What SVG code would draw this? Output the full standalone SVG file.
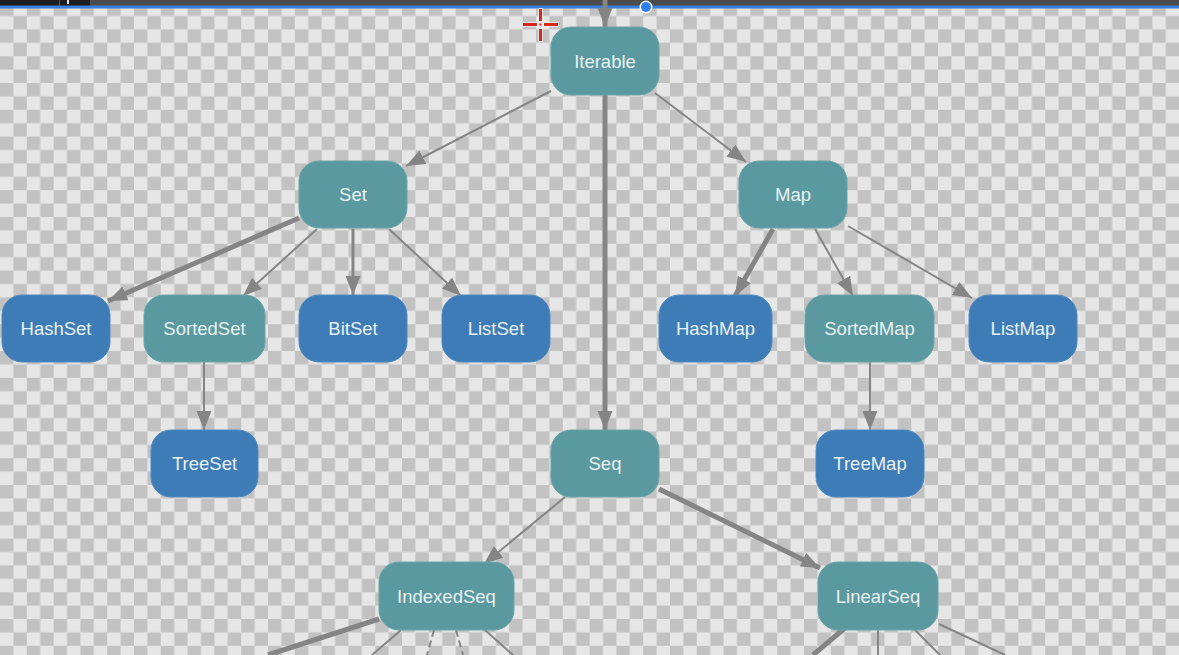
<svg xmlns="http://www.w3.org/2000/svg" width="1179" height="655" viewBox="0 0 1179 655">
  <defs>
    <pattern id="checker" patternUnits="userSpaceOnUse" x="0" y="2.6" width="26.8" height="26.8">
      <rect width="26.8" height="26.8" fill="#e6e6e6"/>
      <rect width="13.4" height="13.4" fill="#c2c2c2"/>
      <rect x="13.4" y="13.4" width="13.4" height="13.4" fill="#c2c2c2"/>
    </pattern>
    <marker id="arrow" markerUnits="userSpaceOnUse" markerWidth="20" markerHeight="16" refX="19" refY="7.5" orient="auto">
      <path d="M0,0 L19,7.5 L0,15 z" fill="#858585"/>
    </marker>
    <style>
      .node rect { stroke-width: 1; }
      .teal rect { fill: #5a999f; stroke: #6aa6ab; }
      .blue rect { fill: #3e7cb8; stroke: #4f8ac2; }
      .node text { font-family: "Liberation Sans", Arial, sans-serif; font-size: 18.5px; fill: #e9f1f2; text-anchor: middle; dominant-baseline: central; }
      .edge { stroke: #858585; fill: none; }
      .thin { stroke-width: 2; }
      .mid { stroke-width: 3; }
      .thick { stroke-width: 5; }
      .dash { stroke-dasharray: 7 4; }
    </style>
  </defs>

  <!-- background -->
  <rect width="1179" height="655" fill="url(#checker)"/>

  <!-- top bar -->
  <rect x="0" y="0" width="1179" height="6" fill="#4b4b4b"/>
  <rect x="0" y="0" width="90" height="6" fill="#1c1c1c"/>
  <rect x="59" y="0" width="1" height="6" fill="#555"/>
  <rect x="67" y="0" width="2" height="4" fill="#e8e8e8"/>
  <rect x="0" y="5.5" width="1179" height="3" fill="#3a7ddc"/>

  <!-- connectors -->
  <g id="connectors">
    <line class="edge thick" x1="605" y1="0" x2="605" y2="27" marker-end="url(#arrow)"/>
    <line class="edge thin" x1="551" y1="91" x2="406" y2="166" marker-end="url(#arrow)"/>
    <line class="edge thin" x1="655" y1="93" x2="746" y2="162" marker-end="url(#arrow)"/>
    <line class="edge thick" x1="605" y1="95" x2="605" y2="430" marker-end="url(#arrow)"/>
    <line class="edge thick" x1="299" y1="218" x2="108" y2="301" marker-end="url(#arrow)"/>
    <line class="edge thin" x1="317" y1="229" x2="243" y2="296" marker-end="url(#arrow)"/>
    <line class="edge mid" x1="353" y1="229" x2="353" y2="295" marker-end="url(#arrow)"/>
    <line class="edge thin" x1="389" y1="229" x2="461" y2="296" marker-end="url(#arrow)"/>
    <line class="edge thick" x1="773" y1="229" x2="735" y2="296" marker-end="url(#arrow)"/>
    <line class="edge thin" x1="815" y1="229" x2="853" y2="296" marker-end="url(#arrow)"/>
    <line class="edge thin" x1="848" y1="226" x2="972" y2="298" marker-end="url(#arrow)"/>
    <line class="edge thin" x1="204" y1="362" x2="204" y2="430" marker-end="url(#arrow)"/>
    <line class="edge thin" x1="870" y1="362" x2="870" y2="430" marker-end="url(#arrow)"/>
    <line class="edge thin" x1="565" y1="497" x2="484" y2="564" marker-end="url(#arrow)"/>
    <line class="edge thick" x1="659" y1="489" x2="820" y2="568" marker-end="url(#arrow)"/>
    <line class="edge thick" x1="379" y1="619" x2="268" y2="655"/>
    <line class="edge thin" x1="401" y1="630" x2="372" y2="655"/>
    <line class="edge thin dash" x1="434" y1="630" x2="427" y2="655"/>
    <line class="edge thin dash" x1="456" y1="630" x2="463" y2="655"/>
    <line class="edge thin" x1="485" y1="630" x2="513" y2="655"/>
    <line class="edge thick" x1="845" y1="628" x2="813" y2="655"/>
    <line class="edge thin" x1="878" y1="630" x2="878" y2="655"/>
    <line class="edge thin" x1="913" y1="628" x2="940" y2="655"/>
    <line class="edge thin" x1="939" y1="624" x2="1005" y2="655"/>
  </g>

  <!-- nodes -->
  <g id="Iterable" class="node teal"><rect x="551" y="27" width="108" height="68" rx="20"/><text x="605" y="61">Iterable</text></g>
  <g id="Set" class="node teal"><rect x="299" y="161" width="108" height="67" rx="20"/><text x="353" y="194">Set</text></g>
  <g id="Map" class="node teal"><rect x="739" y="161" width="108" height="67" rx="20"/><text x="793" y="194">Map</text></g>
  <g id="HashSet" class="node blue"><rect x="2" y="295" width="108" height="67" rx="20"/><text x="56" y="328">HashSet</text></g>
  <g id="SortedSet" class="node teal"><rect x="144" y="295" width="121" height="67" rx="20"/><text x="204.5" y="328">SortedSet</text></g>
  <g id="BitSet" class="node blue"><rect x="299" y="295" width="108" height="67" rx="20"/><text x="353" y="328">BitSet</text></g>
  <g id="ListSet" class="node blue"><rect x="442" y="295" width="108" height="67" rx="20"/><text x="496" y="328">ListSet</text></g>
  <g id="HashMap" class="node blue"><rect x="659" y="295" width="113" height="67" rx="20"/><text x="715.5" y="328">HashMap</text></g>
  <g id="SortedMap" class="node teal"><rect x="805" y="295" width="129" height="67" rx="20"/><text x="869.5" y="328">SortedMap</text></g>
  <g id="ListMap" class="node blue"><rect x="969" y="295" width="108" height="67" rx="20"/><text x="1023" y="328">ListMap</text></g>
  <g id="TreeSet" class="node blue"><rect x="151" y="430" width="107" height="67" rx="20"/><text x="204.5" y="463">TreeSet</text></g>
  <g id="Seq" class="node teal"><rect x="551" y="430" width="108" height="67" rx="20"/><text x="605" y="463">Seq</text></g>
  <g id="TreeMap" class="node blue"><rect x="816" y="430" width="108" height="67" rx="20"/><text x="870" y="463">TreeMap</text></g>
  <g id="IndexedSeq" class="node teal"><rect x="379" y="562" width="135" height="68" rx="20"/><text x="446.5" y="596">IndexedSeq</text></g>
  <g id="LinearSeq" class="node teal"><rect x="818" y="562" width="120" height="68" rx="20"/><text x="878" y="596">LinearSeq</text></g>

  <!-- crosshair cursor -->
  <g id="cursor">
    <g fill="#ffffff" opacity="0.6">
      <rect x="522" y="22" width="16" height="5"/>
      <rect x="543" y="22" width="16" height="5"/>
      <rect x="538" y="8" width="5" height="14"/>
      <rect x="538" y="28" width="5" height="14"/>
    </g>
    <g fill="#d3261c">
      <rect x="523" y="23" width="14" height="3"/>
      <rect x="544" y="23" width="14" height="3"/>
      <rect x="539" y="9" width="3" height="12"/>
      <rect x="539" y="29" width="3" height="12"/>
      <rect x="539.5" y="23.5" width="2" height="2"/>
    </g>
  </g>

  <!-- blue handle -->
  <circle cx="646" cy="7" r="6.5" fill="#ffffff"/>
  <circle cx="646" cy="7" r="5" fill="#2f7ff0"/>
</svg>
